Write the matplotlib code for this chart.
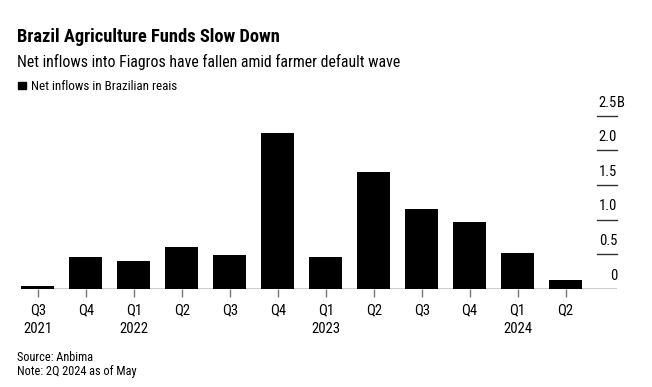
import matplotlib
matplotlib.use("Agg")
import matplotlib.pyplot as plt
import matplotlib.transforms as mtransforms

quarters = ["Q3\n2021", "Q4", "Q1\n2022", "Q2", "Q3", "Q4", "Q1\n2023", "Q2", "Q3", "Q4", "Q1\n2024", "Q2"]
inflows = [0.04, 0.46, 0.40, 0.61, 0.49, 2.25, 0.46, 1.69, 1.16, 0.96, 0.52, 0.125]
yticks = [0, 0.5, 1.0, 1.5, 2.0, 2.5]
ylabels = ["0", "0.5", "1.0", "1.5", "2.0", "2.5"]

plt.rcParams['font.family'] = ['Roboto Condensed', 'Liberation Sans', 'DejaVu Sans']

fig = plt.figure(figsize=(6.52, 3.87), dpi=100)
ax = fig.add_axes([21/652, 98/387, 596/652, 173.3/387])

x = list(range(len(quarters)))
ax.bar(x, inflows, width=0.69, color='black', zorder=3)
ax.set_xlim(-0.35, 12.07)
ax.set_ylim(0, 2.5)
for s in ax.spines.values():
    s.set_visible(False)
ax.axhline(0, color='black', lw=1, zorder=4)

ax.set_xticks(x)
ax.set_xticklabels(quarters, fontsize=10.5, linespacing=1.4)
ax.tick_params(axis='x', length=6, width=1, color='#777777', pad=4.5)
ax.set_yticks([])

# right-side value labels with short gridline stubs
tr = mtransforms.blended_transform_factory(ax.transAxes, ax.transData)
for v, lab in zip(yticks, ylabels):
    if v > 0:
        ax.plot([0.966, 1.0], [v, v], transform=tr, color='#333333', lw=1, clip_on=False)
    ax.annotate(lab, xy=(1.0, v), xycoords=tr, xytext=(0, 9.5), textcoords='offset points',
                ha='right', va='center', fontsize=10.5)
ax.annotate("B", xy=(1.0, 2.5), xycoords=tr, xytext=(0, 9.5), textcoords='offset points',
            ha='left', va='center', fontsize=10.5)

fig.text(17/652, 1 - 41.7/387, "Brazil Agriculture Funds Slow Down", fontsize=13.3,
         fontweight='bold', ha='left', va='baseline')
fig.text(17/652, 1 - 66.7/387, "Net inflows into Fiagros have fallen amid farmer default wave",
         fontsize=11.4, ha='left', va='baseline')
fig.patches.append(plt.Rectangle((18.3/652, 1 - 89.3/387), 7.5/652, 7.5/387,
                                 transform=fig.transFigure, color='black'))
fig.text(31/652, 1 - 89.5/387, "Net inflows in Brazilian reais", fontsize=9.4,
         ha='left', va='baseline')
fig.text(17/652, 1 - 361/387, "Source: Anbima", fontsize=8.8, ha='left', va='baseline')
fig.text(17/652, 1 - 374.5/387, "Note: 2Q 2024 as of May", fontsize=8.8, ha='left', va='baseline')

fig.savefig("out.png", dpi=100)
